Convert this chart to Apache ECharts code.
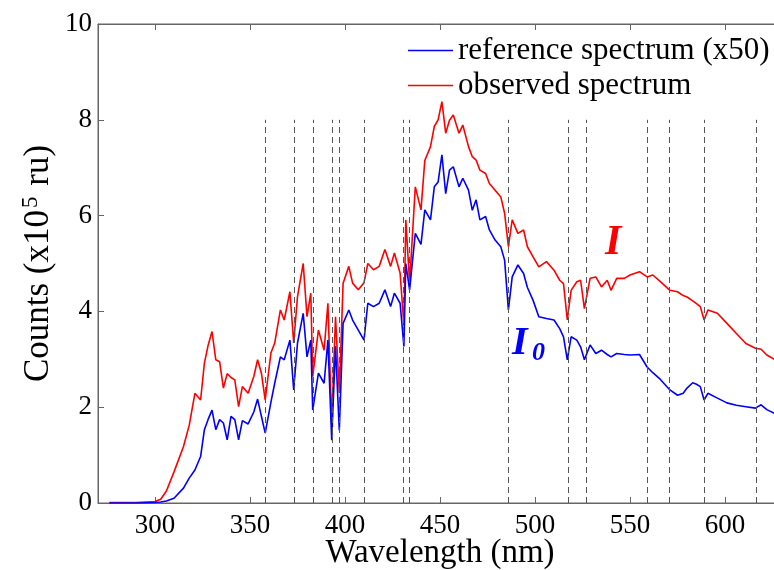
<!DOCTYPE html>
<html>
<head>
<meta charset="utf-8">
<script src="https://cdn.jsdelivr.net/npm/echarts@6/dist/echarts.min.js"></script>
<style>
  html, body { margin: 0; padding: 0; background: #fff; }
  #chart { width: 774px; height: 570px; }
</style>
</head>
<body>
<div id="chart"></div>
<script>
// wavelength grid (nm), shared by both spectra
const wavelength = [276, 290, 300, 303, 306, 310, 315, 318, 321, 324, 326, 328, 330, 332, 334, 336, 338, 340, 342, 344,
  346, 349, 352, 354, 356, 358, 361, 363, 366, 368, 371, 373, 375, 378, 380, 382, 383, 386, 389, 391,
  393, 395, 397, 399, 402, 404, 407, 410, 412, 415, 418, 421, 424, 426, 429, 431, 432, 434, 437, 440,
  442, 445, 447, 449, 451, 453, 455, 457, 460, 462, 465, 467, 469, 471, 474, 476, 479, 482, 484, 486,
  488, 491, 494, 496, 499, 502, 506, 510, 513, 515, 517, 519, 522, 524, 526, 529, 532, 535, 538, 540,
  543, 547, 550, 555, 559, 562, 566, 571, 575, 578, 580, 583, 585, 587, 589, 591, 596, 601, 606, 611,
  616, 619, 622, 626];
// observed spectrum (x10^5 ru)
const observed = [0.01, 0.01, 0.03, 0.08, 0.25, 0.65, 1.18, 1.62, 2.29, 2.15, 2.92, 3.30, 3.58, 2.99, 2.95, 2.40, 2.70, 2.62, 2.57, 2.01,
  2.43, 2.29, 2.64, 2.99, 2.71, 2.15, 3.13, 3.34, 4.03, 3.82, 4.41, 3.34, 4.31, 5.00, 3.89, 4.38, 2.64, 3.61, 3.19, 4.17,
  1.67, 3.89, 2.30, 4.59, 4.94, 4.59, 4.45, 4.60, 5.00, 4.87, 4.94, 5.29, 4.94, 5.22, 4.80, 3.70, 5.91, 4.59, 6.60, 6.12,
  7.15, 7.44, 7.86, 8.00, 8.38, 7.72, 7.99, 8.10, 7.72, 7.89, 7.44, 7.23, 7.16, 6.95, 6.88, 6.67, 6.53, 6.39, 6.05, 5.35,
  5.91, 5.63, 5.70, 5.35, 5.14, 4.93, 5.04, 4.86, 4.65, 4.58, 3.82, 4.44, 4.62, 4.65, 4.06, 4.69, 4.72, 4.51, 4.65, 4.44,
  4.69, 4.69, 4.76, 4.83, 4.72, 4.76, 4.62, 4.44, 4.41, 4.33, 4.30, 4.22, 4.16, 4.10, 3.82, 4.03, 3.96, 3.75, 3.54, 3.33,
  3.23, 3.21, 3.09, 3.00];
// reference spectrum x50 (x10^5 ru)
const reference = [0.00, 0.00, 0.01, 0.02, 0.04, 0.10, 0.31, 0.52, 0.69, 0.97, 1.53, 1.75, 1.94, 1.53, 1.74, 1.67, 1.32, 1.81, 1.74, 1.32,
  1.72, 1.65, 1.90, 2.17, 1.81, 1.46, 2.10, 2.50, 3.05, 2.99, 3.40, 2.36, 3.34, 3.96, 3.05, 3.40, 1.94, 2.71, 2.50, 3.40,
  1.31, 3.27, 1.52, 3.75, 4.03, 3.82, 3.61, 3.40, 4.17, 4.10, 4.17, 4.45, 4.10, 4.38, 4.17, 3.27, 5.00, 4.45, 5.63, 5.40,
  6.12, 5.91, 6.60, 6.70, 7.27, 6.46, 6.95, 7.02, 6.60, 6.78, 6.53, 6.11, 6.33, 5.91, 5.98, 5.70, 5.49, 5.35, 5.07, 4.03,
  4.72, 4.97, 4.79, 4.50, 4.23, 3.89, 3.85, 3.82, 3.64, 3.47, 2.99, 3.47, 3.40, 3.26, 2.99, 3.30, 3.12, 3.19, 3.10, 3.05,
  3.12, 3.10, 3.09, 3.10, 2.84, 2.72, 2.58, 2.36, 2.25, 2.29, 2.40, 2.51, 2.48, 2.43, 2.15, 2.29, 2.19, 2.09, 2.04, 2.01,
  1.98, 2.05, 1.95, 1.87];
// Fraunhofer lines marked with dashed verticals (nm)
const absorptionLines = [358.1, 373.5, 383.5, 393.4, 396.8, 410.2, 430.8, 434.0, 486.1, 517.3, 527.0, 559.0, 570.5, 589.0, 616.3];
const xTicks = [300, 350, 400, 450, 500, 550, 600];

const serif = '"Liberation Serif", "Times New Roman", serif';
const myChart = echarts.init(document.getElementById('chart'));

const obsData = wavelength.map((w, i) => [w, observed[i]]);
const refData = wavelength.map((w, i) => [w, reference[i]]);

const option = {
  backgroundColor: '#fff',
  animation: false,
  textStyle: { fontFamily: serif },
  grid: {
    left: 98, top: 24, width: 684, height: 479,
    outerBoundsMode: 'none',
    containLabel: false,
    show: true, borderColor: '#666', borderWidth: 1
  },
  legend: {
    orient: 'vertical',
    left: 408, top: 35, padding: 0,
    icon: 'rect',
    itemWidth: 45, itemHeight: 1.5, itemGap: 4,
    data: ['reference spectrum (x50)', 'observed spectrum'],
    textStyle: { fontFamily: serif, fontSize: 31, color: '#000', padding: [0, 0, 0, 0] }
  },
  xAxis: [{
    type: 'value', min: 270, max: 630,
    name: 'Wavelength (nm)', nameLocation: 'middle', nameGap: 34,
    nameMoveOverlap: false,
    nameTextStyle: { fontFamily: serif, fontSize: 33, color: '#000' },
    axisLine: { lineStyle: { color: '#666' } },
    axisTick: { inside: true, length: 6, lineStyle: { color: '#666' }, customValues: xTicks },
    axisLabel: { fontFamily: serif, fontSize: 27, color: '#000', margin: 9, customValues: xTicks },
    splitLine: { show: false }
  }, {
    type: 'value', min: 270, max: 630, position: 'top',
    axisLine: { lineStyle: { color: '#666' } },
    axisTick: { inside: true, length: 6, lineStyle: { color: '#666' }, customValues: xTicks },
    axisLabel: { show: false },
    splitLine: { show: false }
  }],
  yAxis: {
    type: 'value', min: 0, max: 10, interval: 2,
    name: 'Counts (x10{sup|5} ru)', nameLocation: 'middle', nameGap: 40,
    nameMoveOverlap: false,
    nameTextStyle: {
      fontFamily: serif, fontSize: 35, color: '#000',
      rich: { sup: { fontFamily: serif, fontSize: 23, verticalAlign: 'bottom', padding: [0, 2, 16, 2] } }
    },
    axisLine: { show: true, lineStyle: { color: '#666' } },
    axisTick: { show: true, inside: true, length: 6, lineStyle: { color: '#666' } },
    axisLabel: { fontFamily: serif, fontSize: 27, color: '#000', margin: 6 },
    splitLine: { show: false }
  },
  series: [{
    name: 'markers',
    type: 'line',
    data: [],
    z: 1,
    silent: true,
    markLine: {
      silent: true,
      symbol: ['none', 'none'],
      label: { show: false },
      lineStyle: { color: '#555', type: [6, 4], width: 1 },
      data: absorptionLines.map(x => [{ coord: [x, 0] }, { coord: [x, 8] }])
    }
  }, {
    name: 'observed spectrum',
    type: 'line',
    data: obsData,
    showSymbol: false,
    symbol: 'none',
    z: 2,
    itemStyle: { color: '#ff0000' },
    lineStyle: { color: '#ff0000', width: 1.6 }
  }, {
    name: 'reference spectrum (x50)',
    type: 'line',
    data: refData,
    showSymbol: false,
    symbol: 'none',
    z: 3,
    itemStyle: { color: '#0000ff' },
    lineStyle: { color: '#0000ff', width: 1.6 }
  }],
  graphic: [
    { type: 'text', left: 605, top: 222,
      style: { text: 'I', font: 'italic bold 42px ' + serif, fill: '#ff0000' } },
    { type: 'text', left: 512, top: 324,
      style: { text: 'I', font: 'italic bold 40px ' + serif, fill: '#0000ff' } },
    { type: 'text', left: 532, top: 340,
      style: { text: '0', font: 'italic bold 26px ' + serif, fill: '#0000ff' } }
  ]
};
myChart.setOption(option);
</script>
</body>
</html>
